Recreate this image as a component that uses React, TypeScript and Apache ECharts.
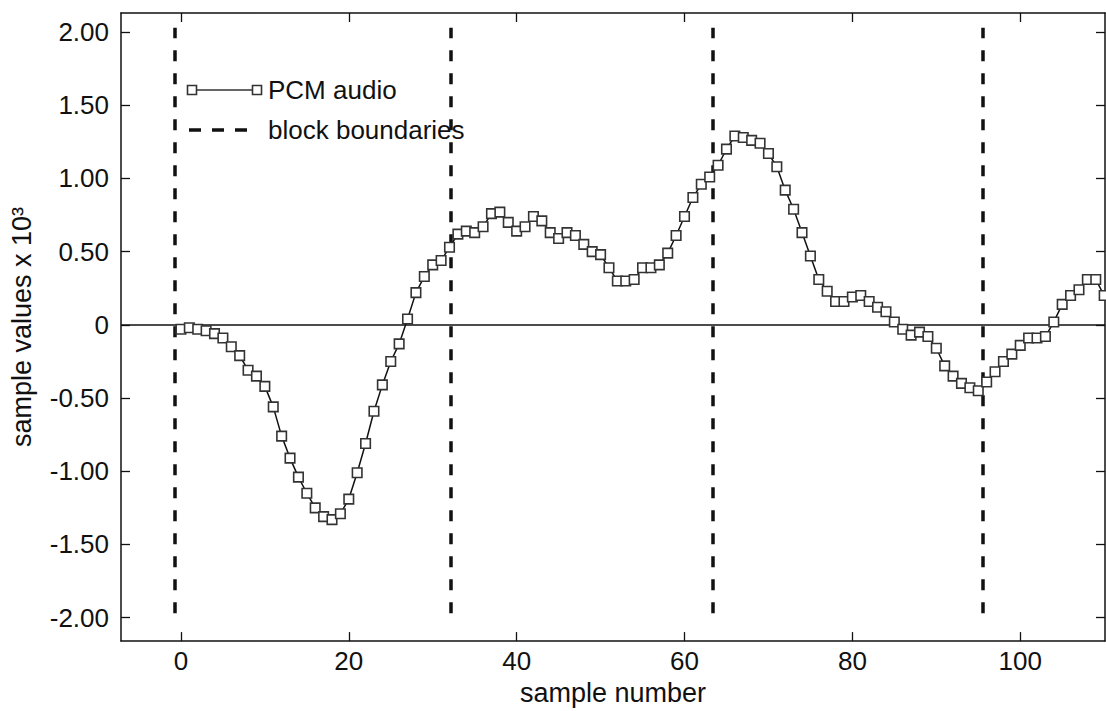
import React, { useEffect, useRef } from "react";
import * as echarts from "echarts";

const sampleValues = [
  -0.03, -0.02, -0.03, -0.04, -0.06, -0.09, -0.15, -0.21, -0.31, -0.35,
  -0.42, -0.56, -0.76, -0.91, -1.04, -1.15, -1.25, -1.31, -1.33, -1.29,
  -1.19, -1.01, -0.81, -0.59, -0.41, -0.25, -0.13, 0.04, 0.22, 0.33,
  0.41, 0.44, 0.53, 0.62, 0.64, 0.63, 0.67, 0.76, 0.77, 0.7,
  0.64, 0.67, 0.74, 0.71, 0.63, 0.59, 0.63, 0.61, 0.55, 0.5,
  0.48, 0.39, 0.3, 0.3, 0.31, 0.39, 0.39, 0.41, 0.49, 0.61,
  0.74, 0.87, 0.96, 1.01, 1.09, 1.2, 1.29, 1.28, 1.26, 1.24,
  1.17, 1.08, 0.92, 0.79, 0.63, 0.47, 0.31, 0.23, 0.16, 0.16,
  0.19, 0.2, 0.16, 0.12, 0.09, 0.02, -0.03, -0.07, -0.05, -0.08,
  -0.16, -0.28, -0.35, -0.4, -0.43, -0.45, -0.39, -0.32, -0.25, -0.2,
  -0.14, -0.09, -0.09, -0.08, 0.02, 0.14, 0.2, 0.24, 0.31, 0.31,
  0.2,
];
const blockBoundaries = [-0.7, 32.2, 63.4, 95.5];
const boundaryRange = [-1.97, 2.03];
const xTickValues = [0, 20, 40, 60, 80, 100];
const yTickValues = [-2, -1.5, -1, -0.5, 0, 0.5, 1, 1.5, 2];
const seriesNames = ["PCM audio", "block boundaries"];
const xAxisTitle = "sample number";
const yAxisTitle = "sample values x 10³";

const FONT = "Liberation Sans, Arial, Helvetica, sans-serif";
const INK = "#111";

export default function App() {
  const ref = useRef<HTMLDivElement>(null);
  useEffect(() => {
    if (!ref.current) return;
    const chart = echarts.init(ref.current, undefined, { renderer: "svg" });
    const pcmData = sampleValues.map((v, i) => [i, v]);
    const fmtY = (v: number) => (v === 0 ? "0" : v.toFixed(2));
    const tick = { show: true, inside: true, length: 9, lineStyle: { color: INK, width: 1.3 } };
    const line = { show: true, onZero: false, lineStyle: { color: INK, width: 1.5 } };
    const option: any = {
      animation: false,
      backgroundColor: "#fff",
      textStyle: { fontFamily: FONT, color: INK },
      grid: { left: 120, top: 13, right: 1, bottom: 65, containLabel: false },
      xAxis: [
        {
          type: "value",
          min: -7.14,
          max: 110.1,
          position: "bottom",
          name: xAxisTitle,
          nameLocation: "middle",
          nameGap: 31,
          nameTextStyle: { fontSize: 27, color: INK, fontFamily: FONT },
          axisLine: line,
          axisTick: { ...tick, customValues: xTickValues },
          axisLabel: { show: true, customValues: xTickValues, fontSize: 26, color: INK, fontFamily: FONT, margin: 7 },
          splitLine: { show: false },
        },
        {
          type: "value",
          min: -7.14,
          max: 110.1,
          position: "top",
          axisLine: line,
          axisTick: { ...tick, customValues: xTickValues },
          axisLabel: { show: false },
          splitLine: { show: false },
        },
      ],
      yAxis: [
        {
          type: "value",
          min: -2.16,
          max: 2.13,
          position: "left",
          name: yAxisTitle,
          nameLocation: "middle",
          nameGap: 86,
          nameTextStyle: { fontSize: 27, color: INK, fontFamily: FONT },
          axisLine: line,
          axisTick: { ...tick, customValues: yTickValues },
          axisLabel: { show: true, customValues: yTickValues, formatter: fmtY, fontSize: 26, color: INK, fontFamily: FONT, margin: 12 },
          splitLine: { show: false },
        },
        {
          type: "value",
          min: -2.16,
          max: 2.13,
          position: "right",
          axisLine: line,
          axisTick: { ...tick, customValues: yTickValues },
          axisLabel: { show: false },
          splitLine: { show: false },
        },
      ],
      series: [
        {
          name: seriesNames[1],
          type: "line",
          data: [],
          silent: true,
          markLine: {
            silent: true,
            symbol: ["none", "none"],
            label: { show: false },
            lineStyle: { color: INK, width: 3.5, type: [11, 12] },
            data: blockBoundaries.map((b) => [
              { coord: [b, boundaryRange[0]] },
              { coord: [b, boundaryRange[1]] },
            ]),
          },
        },
        {
          name: "zero",
          type: "line",
          data: [],
          silent: true,
          markLine: {
            silent: true,
            symbol: ["none", "none"],
            label: { show: false },
            lineStyle: { color: INK, width: 1.5, type: "solid" },
            data: [{ yAxis: 0 }],
          },
        },
        {
          name: seriesNames[0],
          type: "line",
          data: pcmData,
          symbol: "rect",
          symbolSize: 9.5,
          showAllSymbol: true,
          lineStyle: { color: INK, width: 1.5 },
          itemStyle: { color: "#fff", borderColor: "#333", borderWidth: 1.6 },
          z: 5,
        },
      ],
      graphic: [
        { type: "line", shape: { x1: 192, y1: 90, x2: 257, y2: 90 }, style: { stroke: "#333", lineWidth: 1.5 } },
        { type: "rect", shape: { x: 187.5, y: 85.5, width: 9, height: 9 }, style: { fill: "#fff", stroke: "#333", lineWidth: 1.6 } },
        { type: "rect", shape: { x: 252.5, y: 85.5, width: 9, height: 9 }, style: { fill: "#fff", stroke: "#333", lineWidth: 1.6 } },
        { type: "text", x: 268, y: 90, style: { text: seriesNames[0], fontSize: 26, fontFamily: FONT, fill: INK, verticalAlign: "middle" } },
        { type: "line", shape: { x1: 189, y1: 130, x2: 252, y2: 130 }, style: { stroke: INK, lineWidth: 3.5, lineDash: [12, 11] } },
        { type: "text", x: 268, y: 130, style: { text: seriesNames[1], fontSize: 26, fontFamily: FONT, fill: INK, verticalAlign: "middle" } },
      ],
    };
    chart.setOption(option);
    return () => chart.dispose();
  }, []);
  return (
    <div
      ref={ref}
      style={{ position: "fixed", left: 0, top: 0, width: 1106, height: 711, background: "#fff" }}
    />
  );
}
